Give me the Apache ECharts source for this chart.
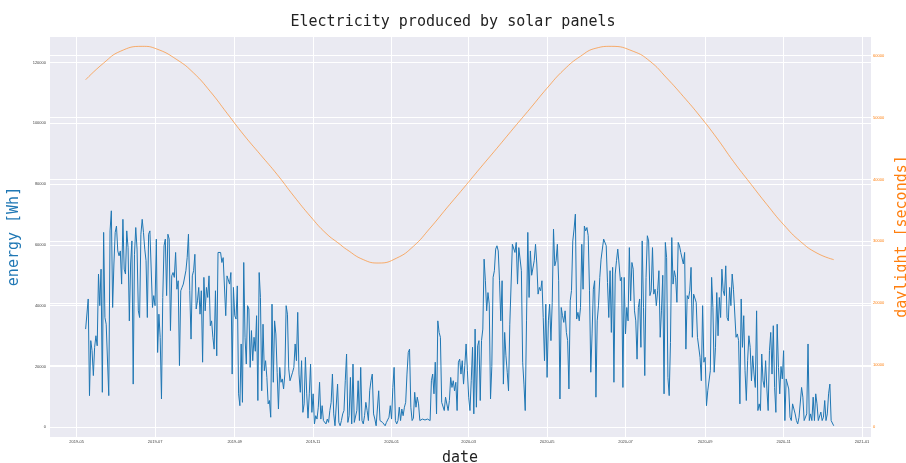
<!DOCTYPE html>
<html>
<head>
<meta charset="utf-8">
<script src="https://cdn.jsdelivr.net/npm/echarts@6/dist/echarts.min.js"></script>
<style>
html, body { margin: 0; padding: 0; background: #fff; }
#chart { width: 906px; height: 463px; }
</style>
</head>
<body>
<div id="chart"></div>
<script>
// ============================
// Data
// ============================
// daily energy [Wh], first day 2019-05-08
var energyStart = [2019, 4, 8];
var energyWh = [
    32300, 32300, 42200, 10400, 28500, 25200, 17000, 26300, 30100, 26800,
    50400, 40000, 52000, 11500, 64100, 36100, 33900, 33900, 10400, 64600,
    71200, 39400, 53700, 64100, 66200, 58000, 56400, 58000, 47100, 68400,
    52000,
    50400, 64600, 59100, 35000, 53700, 61300, 14200, 56900, 65700, 58600,
    38300, 36100, 63500, 68400, 64100, 58600, 54800, 36100, 63500, 64600,
    64600, 39400, 43300, 40000, 61900, 24600, 37200, 29600, 9300, 42700,
    59700, 61900, 43300, 63500, 61900, 31800, 49800, 50900, 49300, 57500,
    45400, 48200, 20300, 44900, 46000, 47100, 47600, 51500, 55800, 63500,
    45000,
    29000, 49800, 51500, 56900, 38900, 41600, 46000, 37200, 44900, 21400,
    49300, 38300, 46000, 42700, 49800, 33400, 35000, 29600, 25700, 44900,
    23500, 57500, 58000, 57500, 54200, 55800, 55300, 36700, 49800, 50400,
    47100, 50900, 17500, 46000, 36700, 35600, 46500, 11000, 7100, 27400,
    8200, 54200, 29600, 20800, 40000, 38900, 19700, 31800, 21900, 29600,
    25000,
    36700, 8800, 50900, 42700, 12000, 33900, 18600, 21900, 16400, 7700,
    8800, 3300, 40500, 14800, 35000, 30700, 18100, 6000, 19700, 14800,
    15900, 12600, 17500, 40000, 37200, 19200, 15300, 15900, 18100, 19700,
    27400, 21900, 37800, 17500, 11500, 21900, 4900, 7700, 23000, 11000,
    3000,
    11000, 20800, 4900, 11000, 1100, 3800, 2700, 6600, 14800, 2700,
    7100, 2200, 2700, 1100, 2700, 1600, 5500, 8200, 17500, 4400,
    500,
    1100, 14200, 1600, 500, 2200, 4400, 5500, 15300, 24100, 1600,
    3800, 16400, 1100, 20800, 1600, 2200, 5500, 15300, 2200, 19700,
    2200, 1100, 3800, 8200, 5500, 2200, 12000, 15300, 17500, 4400,
    2700, 500, 500, 12000, 2200, 2700, 1600, 2200, 500, 1600,
    1600, 3300, 7100, 2700, 13100, 19700, 2200, 1100, 2200, 6600,
    2200, 6000, 3800, 6600, 8200, 17500, 24600, 25700, 6600, 2200,
    3000,
    11500, 6600, 9900, 7700, 2200, 2200, 2700, 2200, 2400, 2200,
    2700, 2400, 2200, 15300, 17500, 11000, 21400, 4400, 35000, 31200,
    29600, 8200, 7700, 5500, 9900, 9300, 5500, 8800, 16400, 13100,
    15300, 12000, 14800, 5500, 21400, 22400, 17500, 21900, 14200, 20300,
    27400, 18600, 9900, 5500, 15300, 26300, 4400, 32300, 6600, 26800,
    28500, 8800, 28500, 32300, 55300, 48200, 38300, 44300, 40500, 9300,
    20000,
    49300, 51500, 58600, 59700, 58000, 48200, 35000, 48200, 14200, 31200,
    23500, 18100, 12000, 33900, 33900, 60200, 60800, 57500, 60800, 47100,
    59100, 59700, 51500, 21400, 14200, 5500, 35000, 64100, 42700, 58000,
    50000,
    49800, 54800, 60200, 53700, 43800, 46000, 44900, 48200, 36100, 21900,
    40500, 16400, 35000, 40500, 28500, 41100, 65200, 53100, 54800, 60200,
    48200, 9300, 39400, 36700, 34500, 38300, 31200, 28500, 12600, 41600,
    45000,
    61300, 65200, 70100, 35600, 37800, 35000, 39400, 60200, 45400, 66200,
    64600, 65700, 63000, 44900, 18100, 30700, 45400, 48200, 9900, 35000,
    40000,
    49300, 55300, 54800, 61900, 62400, 59700, 47600, 36100, 51500,
    31200, 52600, 14800, 50400, 54800, 58600, 53700, 48200, 49300, 13100,
    49300, 30700, 39400, 35000, 59100, 41600, 54200, 52000, 38300, 35000,
    22400, 39400, 42200, 26300, 61300, 39400, 17000, 49300, 63000, 61300,
    43300, 44900, 59100, 43800, 45400, 40000, 44900, 51500, 29600, 38300,
    50000,
    11000, 60800, 55800, 16400, 10400, 27900, 62400, 47100, 51500, 49300,
    41100, 60800, 59700, 57500, 57500, 53700, 57500, 25700, 43300, 42200,
    44900, 52600, 29600, 43800, 44300, 41100, 29600, 29600, 23000, 15300,
    40000, 21400, 23000, 7100, 12000, 12600, 18600, 49300, 39400, 18100,
    26300, 44300, 30100, 42700, 36100, 52000, 44900, 43300, 53100, 36100,
    35000,
    46000, 40000, 50400, 45400, 44900, 29600, 30700, 28500, 7700, 42200,
    26300, 36700, 18600, 8800, 21900, 30100, 26300, 15300, 23500, 17500,
    13100, 38300, 5500, 7700, 5500, 24100, 15300, 13100, 21900, 12600,
    5500, 25200, 31200, 17500, 33400, 13100, 4900, 33900, 19700, 11000,
    20000,
    15900, 25200, 2200, 15900, 15900, 12600, 3300, 2200, 7700, 8200,
    4400, 2200, 1100, 3300, 3300, 13100, 9900, 2200, 2200, 4400,
    27400, 2200, 4400, 2200, 9900, 2200, 11000, 7700, 2200, 2700,
    5000,
    2200, 3300, 8800, 2200, 4400, 11000, 14200, 2200, 2700, 500
];

// daylight [seconds]
var daylightDates = [
    "2019-05-08", "2019-05-22", "2019-06-04", "2019-06-21", "2019-07-02", "2019-07-18",
    "2019-07-31", "2019-08-13", "2019-08-26", "2019-09-08", "2019-09-21", "2019-10-04",
    "2019-10-17", "2019-10-30", "2019-11-11", "2019-11-22", "2019-11-27", "2019-12-10",
    "2019-12-22", "2020-01-05", "2020-01-18", "2020-01-31", "2020-02-13", "2020-02-26",
    "2020-03-10", "2020-03-23", "2020-04-05", "2020-04-18", "2020-05-01", "2020-05-14",
    "2020-05-27", "2020-06-08", "2020-06-20", "2020-07-07", "2020-07-20", "2020-08-02",
    "2020-08-15", "2020-08-28", "2020-09-10", "2020-09-23", "2020-10-06", "2020-10-19",
    "2020-11-01", "2020-11-14", "2020-11-27", "2020-12-10"
];
var daylightSec = [
    56100, 58800, 60700, 61500, 61100, 59350,
    57200, 54200, 50700, 47200, 44000, 40800,
    37300, 34000, 31300, 29500, 28700, 27050,
    26500, 27300, 29200, 32150, 35400, 38600,
    41850, 45050, 48300, 51500, 54750, 57700,
    59900, 61200, 61500, 60700, 59100, 56400,
    53400, 50200, 46700, 42900, 39400, 35950,
    32700, 30000, 28100, 27050
];

// ============================
// Chart
// ============================
function toTime(d) {
    var p = d.split("-");
    return new Date(+p[0], +p[1] - 1, +p[2]).getTime();
}
var energyData = energyWh.map(function (v, i) {
    return [new Date(energyStart[0], energyStart[1], energyStart[2] + i).getTime(), v];
});
var daylightData = daylightDates.map(function (d, i) {
    return [toTime(d), daylightSec[i]];
});

var mono = "DejaVu Sans Mono";
var chart = echarts.init(document.getElementById("chart"));
chart.setOption({
    animation: false,
    backgroundColor: "#fff",
    title: {
        text: "Electricity produced by solar panels",
        left: "center",
        top: 10,
        textStyle: { fontFamily: mono, fontSize: 15, fontWeight: "normal", color: "#222" }
    },
    grid: {
        left: 49, right: 35, top: 36, bottom: 26,
        outerBoundsMode: "none",
        containLabel: false,
        show: true, backgroundColor: "#EAEAF2", borderWidth: 0
    },
    xAxis: {
        type: "time",
        min: new Date(2019, 3, 9, 12).getTime(),
        max: new Date(2021, 0, 8).getTime(),
        splitNumber: 10,
        name: "date",
        nameLocation: "middle",
        nameGap: 14,
        nameTextStyle: { fontFamily: mono, fontSize: 15, color: "#222" },
        axisLine: { show: false },
        axisTick: { show: false },
        axisLabel: { formatter: "{yyyy}-{MM}", fontSize: 4, color: "#444", margin: 3 },
        splitLine: { show: true, lineStyle: { color: "#fff", width: 1 } }
    },
    yAxis: [
        {
            type: "value",
            min: -3200,
            max: 128700,
            minInterval: 20000,
            maxInterval: 20000,
            name: "energy [Wh]",
            nameLocation: "middle",
            nameRotate: 90,
            nameGap: 18,
            nameTextStyle: { fontFamily: mono, fontSize: 15, color: "#1f77b4" },
            axisLine: { show: false },
            axisTick: { show: false },
            axisLabel: {
                fontSize: 4, color: "#444", margin: 3, showMinLabel: false, showMaxLabel: false,
                formatter: v => String(v)
            },
            splitLine: { show: true, lineStyle: { color: "#fff", width: 1 } }
        },
        {
            type: "value",
            min: -1600,
            max: 63170,
            minInterval: 10000,
            maxInterval: 10000,
            name: "daylight [seconds]",
            nameLocation: "middle",
            nameRotate: 90,
            nameGap: 14,
            nameTextStyle: { fontFamily: mono, fontSize: 15, color: "#ff7f0e" },
            axisLine: { show: false },
            axisTick: { show: false },
            axisLabel: {
                fontSize: 4, color: "#ff7f0e", margin: 2, showMinLabel: false, showMaxLabel: false,
                formatter: v => String(v)
            },
            splitLine: { show: true, lineStyle: { color: "#fff", width: 1 } }
        }
    ],
    series: [
        {
            name: "energy",
            type: "line",
            yAxisIndex: 0,
            data: energyData,
            showSymbol: false,
            lineStyle: { color: "#1f77b4", width: 1 }
        },
        {
            name: "daylight",
            type: "line",
            yAxisIndex: 1,
            data: daylightData,
            smooth: true,
            showSymbol: false,
            lineStyle: { color: "#ff7f0e", width: 0.8, opacity: 0.75 }
        }
    ]
});
</script>
</body>
</html>
